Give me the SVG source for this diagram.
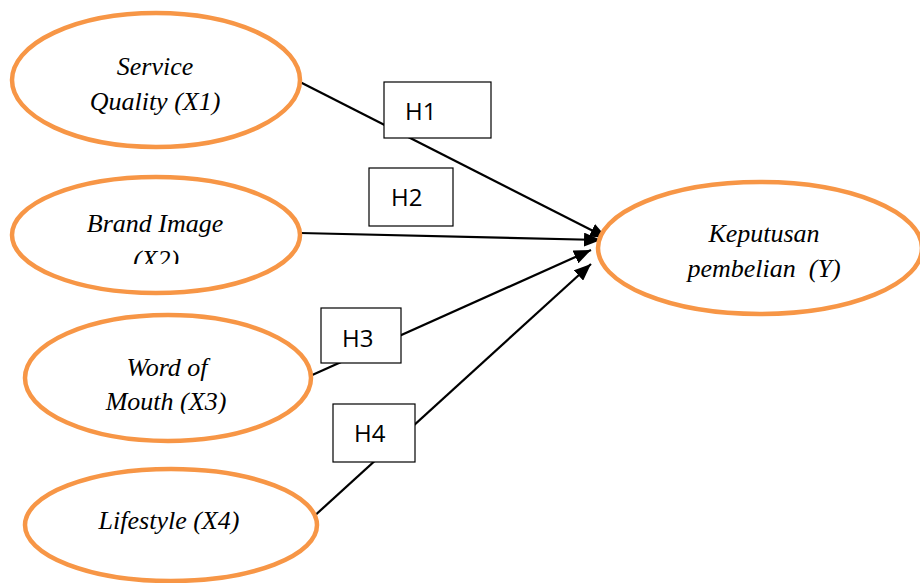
<svg xmlns="http://www.w3.org/2000/svg" width="920" height="583" viewBox="0 0 920 583">
  <style>
    .node ellipse { fill: #ffffff; stroke: #F79646; stroke-width: 4.5; }
    .lbl { font-family: "Liberation Serif", "Times New Roman", serif; font-style: italic; font-size: 26px; fill: #000; text-anchor: middle; }
    .edge { stroke: #000; stroke-width: 2.2; fill: none; marker-end: url(#arrow); }
    .hyp rect { fill: #ffffff; stroke: #000; stroke-width: 1.2; }
    .hyp text { font-family: "Open Sans", "Liberation Sans", sans-serif; font-size: 24px; fill: #000; }
  </style>
  <defs>
    <marker id="arrow" markerUnits="userSpaceOnUse" markerWidth="18" markerHeight="14" refX="17" refY="7" orient="auto">
      <path d="M0,0 L17,7 L0,14 z" fill="#000"/>
    </marker>
    <clipPath id="clipX2"><rect x="0" y="0" width="320" height="264"/></clipPath>
    <clipPath id="clipX3"><rect x="0" y="300" width="320" height="114"/></clipPath>
  </defs>
  <rect width="920" height="583" fill="#ffffff"/>

  <!-- connectors -->
  <g id="connectors">
    <line class="edge" x1="300" y1="82" x2="607" y2="238"/>
    <line class="edge" x1="300" y1="233" x2="601" y2="240"/>
    <line class="edge" x1="310" y1="376" x2="591" y2="250"/>
    <line class="edge" x1="311" y1="519" x2="591" y2="264"/>
  </g>

  <!-- constructs -->
  <g id="x1" class="node">
    <ellipse cx="156" cy="80" rx="144" ry="67"/>
    <text class="lbl" x="155" y="75">Service</text>
    <text class="lbl" x="155" y="110">Quality (X1)</text>
  </g>
  <g id="x2" class="node">
    <ellipse cx="156" cy="235" rx="144" ry="58"/>
    <g clip-path="url(#clipX2)">
      <text class="lbl" x="155" y="232">Brand Image</text>
      <text class="lbl" x="156" y="268">(X2)</text>
    </g>
  </g>
  <g id="x3" class="node">
    <ellipse cx="168" cy="378" rx="143" ry="63"/>
    <g clip-path="url(#clipX3)">
      <text class="lbl" x="167" y="376">Word of</text>
      <text class="lbl" x="166" y="410">Mouth (X3)</text>
    </g>
  </g>
  <g id="x4" class="node">
    <ellipse cx="171" cy="525" rx="146" ry="56"/>
    <text class="lbl" x="169" y="529">Lifestyle (X4)</text>
  </g>
  <g id="y" class="node">
    <ellipse cx="760" cy="248" rx="162" ry="66"/>
    <text class="lbl" x="764" y="242">Keputusan</text>
    <text class="lbl" x="764" y="277" xml:space="preserve">pembelian  (Y)</text>
  </g>

  <!-- hypothesis labels -->
  <g id="h1" class="hyp">
    <rect x="384" y="82" width="107" height="56"/>
    <text x="405" y="120">H1</text>
  </g>
  <g id="h2" class="hyp">
    <rect x="369" y="168" width="84" height="58"/>
    <text x="391" y="206">H2</text>
  </g>
  <g id="h3" class="hyp">
    <rect x="321" y="308" width="80" height="55"/>
    <text x="342" y="347">H3</text>
  </g>
  <g id="h4" class="hyp">
    <rect x="333" y="404" width="82" height="58"/>
    <text x="354" y="442">H4</text>
  </g>
</svg>
